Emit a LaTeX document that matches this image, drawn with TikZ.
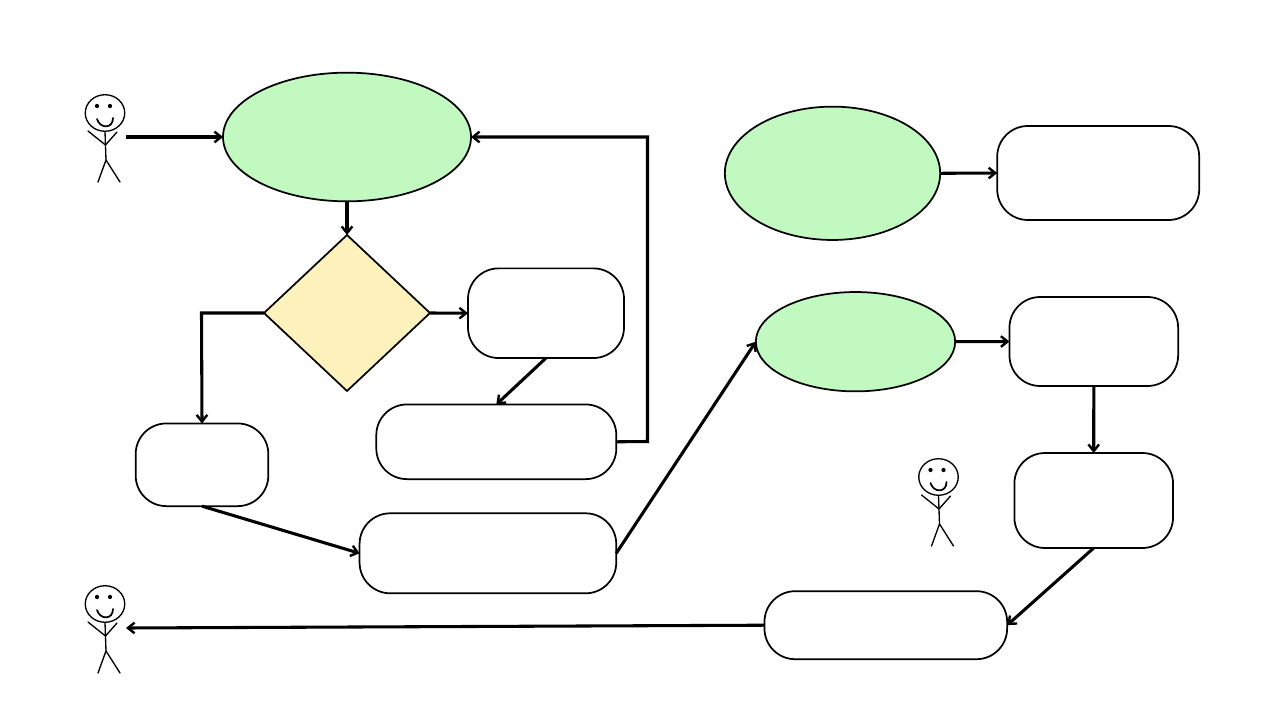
\documentclass[tikz,border=0pt]{standalone}
\usetikzlibrary{shapes.geometric,arrows.meta}
\definecolor{oval}{HTML}{C1F9C0}
\definecolor{dia}{HTML}{FEF2BC}
\tikzset{
  x=0.75pt,y=-0.75pt,
  oval/.style={ellipse,draw=black,fill=oval,line width=1.3pt,inner sep=0pt,outer sep=0pt},
  decision/.style={diamond,draw=black,fill=dia,line width=1.3pt,inner sep=0pt,outer sep=0pt,aspect=1.064},
  roundbox/.style={rectangle,rounded corners=23pt,draw=black,fill=white,line width=1.3pt,inner sep=0pt,outer sep=0pt},
  conn/.style={line width=2.3pt,-{Straight Barb[length=5pt,width=8pt,line width=1.8pt]}},
  stick/.style={line width=1pt,line cap=round,line join=round},
  pics/person/.style={code={
    \draw[stick] (0,1) ellipse[x radius=14.8pt,y radius=13.7pt];
    \fill (-8,-6) circle[radius=1.6pt] (5,-6) circle[radius=1.6pt];
    \draw[stick,line width=1.3pt] (-8,7) .. controls (-5,17) and (8,17) .. (8,6);
    \draw[stick] (0,19.5) -- (1,48);
    \draw[stick] (-17,19) -- (0.5,33) -- (12,20);
    \draw[stick] (-7,70) -- (1,48) -- (15,70);
  }}
}
\begin{document}
\begin{tikzpicture}
\useasboundingbox (0,0) rectangle (1280,720);
\node[oval,minimum width=186pt,minimum height=96.5pt] (e1) at (347,137) {};
\node[oval,minimum width=161.5pt,minimum height=100pt] (e2) at (832.5,173.3) {};
\node[oval,minimum width=149.5pt,minimum height=74.5pt] (e3) at (855.5,341.7) {};
\node[decision,minimum width=124.5pt,minimum height=117pt] (d) at (347,313) {};
\node[roundbox,minimum width=117pt,minimum height=67.25pt] (r1) at (546,313.2) {};
\node[roundbox,minimum width=180pt,minimum height=56pt] (r2) at (496.3,441.8) {};
\node[roundbox,minimum width=99.5pt,minimum height=62pt] (r3) at (202,464.8) {};
\node[roundbox,minimum width=192.5pt,minimum height=60pt] (r4) at (487.9,553.3) {};
\node[roundbox,minimum width=151.5pt,minimum height=70.5pt] (r5) at (1098.2,173) {};
\node[roundbox,minimum width=126.5pt,minimum height=66.75pt] (r6) at (1093.8,341.5) {};
\node[roundbox,minimum width=119pt,minimum height=71.25pt] (r7) at (1093.7,500.5) {};
\node[roundbox,minimum width=182pt,minimum height=51pt] (r8) at (885.8,625.2) {};
\pic at (105,112) {person};
\pic at (938.5,476) {person};
\pic at (105,603) {person};
\coordinate (p1) at (126,137);
\coordinate (p3) at (126,628);
\coordinate (b1) at (201.5,313);
\coordinate (b2) at (647.5,441.5);
\coordinate (b3) at (647.5,137);
\draw[conn] (p1) -- (e1.west);
\draw[conn] (e1.south) -- (d.north);
\draw[conn] (d.east) -- (r1.west);
\draw[conn] (d.west) -- (b1) -- (r3.north);
\draw[conn] (r1.south) -- (r2.north);
\draw[conn] (r2.east) -- (b2) -- (b3) -- (e1.east);
\draw[conn] (r3.south) -- (r4.west);
\draw[conn] (r4.east) -- (e3.west);
\draw[conn] (e2.east) -- (r5.west);
\draw[conn] (e3.east) -- (r6.west);
\draw[conn] (r6.south) -- (r7.north);
\draw[conn] (r7.south) -- (r8.east);
\draw[conn] (r8.west) -- (p3);
\end{tikzpicture}
\end{document}
